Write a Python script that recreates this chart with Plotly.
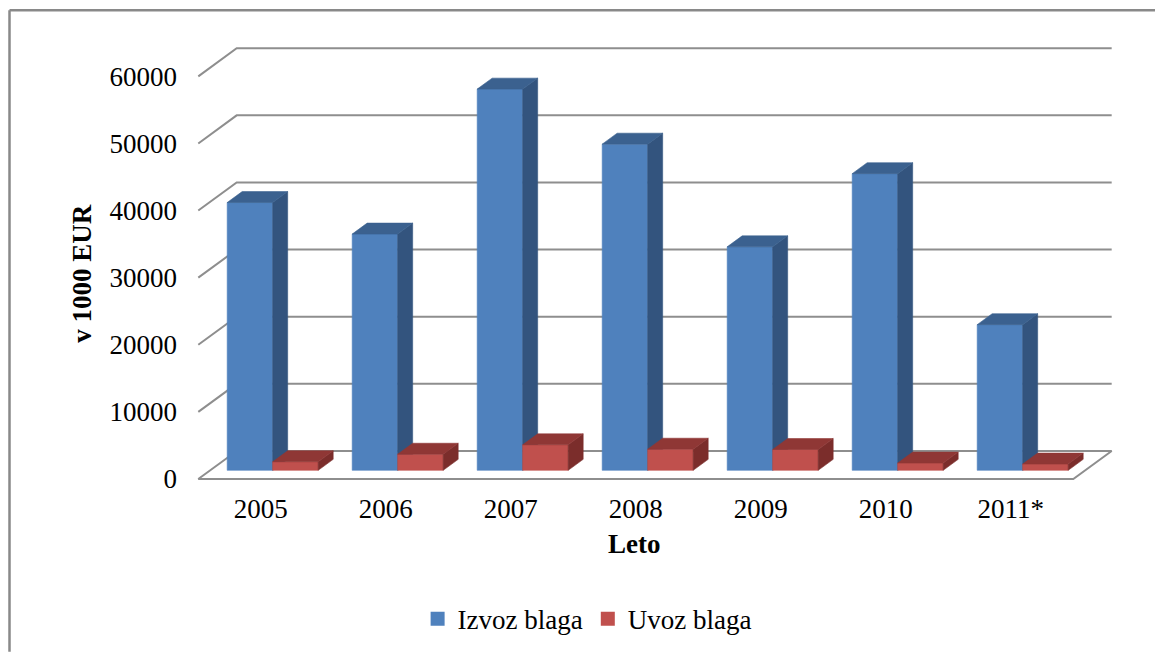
import plotly.graph_objects as go

# ---- data ----
years = ['2005', '2006', '2007', '2008', '2009', '2010', '2011*']
izvoz = [39900, 35200, 56800, 48600, 33300, 44200, 21700]
uvoz = [1270, 2400, 3800, 3150, 3100, 1080, 930]
series_names = ['Izvoz blaga', 'Uvoz blaga']
y_ticks = [0, 10000, 20000, 30000, 40000, 50000, 60000]

# ---- style / 3D geometry ----
FONT = 'Liberation Serif'
DX = 0.307      # depth offset in category units
DY = 4182       # depth offset in value units
Z0, Z1 = 0.31, 0.70   # bar front/back depth fractions
BW = 0.364      # bar width in category units
GRID = '#8e8e8e'
colors = {
    0: dict(front='#4F81BD', side='#33547E', top='#3B618F'),
    1: dict(front='#C0504D', side='#7B2D2B', top='#8F3735'),
}

W, H = 1155, 656
L, R, T, B = 190, 35, 30, 166
PX_PER_X = 125.0
PX_PER_Y = 408.0 / 60000
X0_PIX = 198.3
BACK60_PIX = 48.5

x_lo = (L - X0_PIX) / PX_PER_X
x_hi = (W - R - X0_PIX) / PX_PER_X
y_hi = 60000 + (BACK60_PIX - T) / PX_PER_Y
y_lo = 60000 - ((H - B) - BACK60_PIX) / PX_PER_Y


def proj(x, v, z):
    return x + z * DX, v - (1 - z) * DY


fig = go.Figure()

# ---- gridlines / walls ----
n = len(years)
gx, gy = [], []
for v in y_ticks:
    pts = [proj(0, v, 0), proj(0, v, 1), proj(n, v, 1)]
    if v == 0:
        pts = [proj(0, v, 1), proj(0, v, 0), proj(n, v, 0), proj(n, v, 1), proj(0, v, 1)]
    for px, py in pts:
        gx.append(px)
        gy.append(py)
    gx.append(None)
    gy.append(None)
fig.add_trace(go.Scatter(x=gx, y=gy, mode='lines', line=dict(color=GRID, width=2),
                         hoverinfo='skip', showlegend=False))


def poly(corners, color):
    xs = [c[0] for c in corners] + [corners[0][0]]
    ys = [c[1] for c in corners] + [corners[0][1]]
    fig.add_trace(go.Scatter(x=xs, y=ys, mode='lines', fill='toself', fillcolor=color,
                             line=dict(color=color, width=0.6), hoverinfo='skip',
                             showlegend=False))


# ---- 3D bars ----
for i in range(n):
    for s, vals in enumerate([izvoz, uvoz]):
        v = vals[i]
        x0 = i + 0.5 - BW + s * BW
        x1 = x0 + BW
        c = colors[s]
        poly([proj(x0, 0, Z0), proj(x1, 0, Z0), proj(x1, v, Z0), proj(x0, v, Z0)], c['front'])
        poly([proj(x1, 0, Z0), proj(x1, 0, Z1), proj(x1, v, Z1), proj(x1, v, Z0)], c['side'])
        poly([proj(x0, v, Z0), proj(x1, v, Z0), proj(x1, v, Z1), proj(x0, v, Z1)], c['top'])

# ---- legend entries ----
for s, name in enumerate(series_names):
    fig.add_trace(go.Scatter(x=[None], y=[None], mode='markers', name=name,
                             marker=dict(symbol='square', size=14, color=colors[s]['front'])))

fig.update_layout(
    width=W, height=H,
    margin=dict(l=L, r=R, t=T, b=B, pad=0),
    paper_bgcolor='white', plot_bgcolor='white',
    font=dict(family=FONT, size=27, color='black'),
    showlegend=True,
    legend=dict(orientation='h', x=0.427, xanchor='center', y=(H - B - 627) / (H - T - B),
                yanchor='middle', font=dict(family=FONT, size=27), bgcolor='rgba(0,0,0,0)',
                itemwidth=30, tracegroupgap=0),
    xaxis=dict(range=[x_lo, x_hi], showgrid=False, zeroline=False, showline=False,
               tickmode='array', tickvals=[i + 0.5 for i in range(n)], ticktext=years,
               ticks='', ticklabelstandoff=6, tickfont=dict(family=FONT, size=27)),
    yaxis=dict(range=[y_lo, y_hi], showgrid=False, zeroline=False, showline=False,
               tickmode='array', tickvals=[v - DY for v in y_ticks],
               ticktext=[str(v) for v in y_ticks], ticks='', ticklabelstandoff=12,
               tickfont=dict(family=FONT, size=27)),
    annotations=[
        dict(text='<b>v 1000 EUR</b>', xref='paper', yref='paper',
             x=(82 - L) / (W - L - R), y=(H - B - 277) / (H - T - B),
             textangle=-90, showarrow=False, font=dict(family=FONT, size=27),
             xanchor='center', yanchor='middle'),
        dict(text='<b>Leto</b>', xref='paper', yref='paper',
             x=(634 - L) / (W - L - R), y=(H - B - 551) / (H - T - B),
             showarrow=False, font=dict(family=FONT, size=27),
             xanchor='center', yanchor='middle'),
    ],
    shapes=[
        dict(type='line', xref='paper', yref='paper', layer='above',
             x0=(9.5 - L) / (W - L - R), x1=(9.5 - L) / (W - L - R),
             y0=(H - B - 10) / (H - T - B), y1=(H - B - 660) / (H - T - B),
             line=dict(color='#898989', width=2.5)),
        dict(type='line', xref='paper', yref='paper', layer='above',
             x0=(9.5 - L) / (W - L - R), x1=(1160 - L) / (W - L - R),
             y0=(H - B - 10) / (H - T - B), y1=(H - B - 10) / (H - T - B),
             line=dict(color='#898989', width=2.5)),
    ],
)

fig.write_html('out.html')
